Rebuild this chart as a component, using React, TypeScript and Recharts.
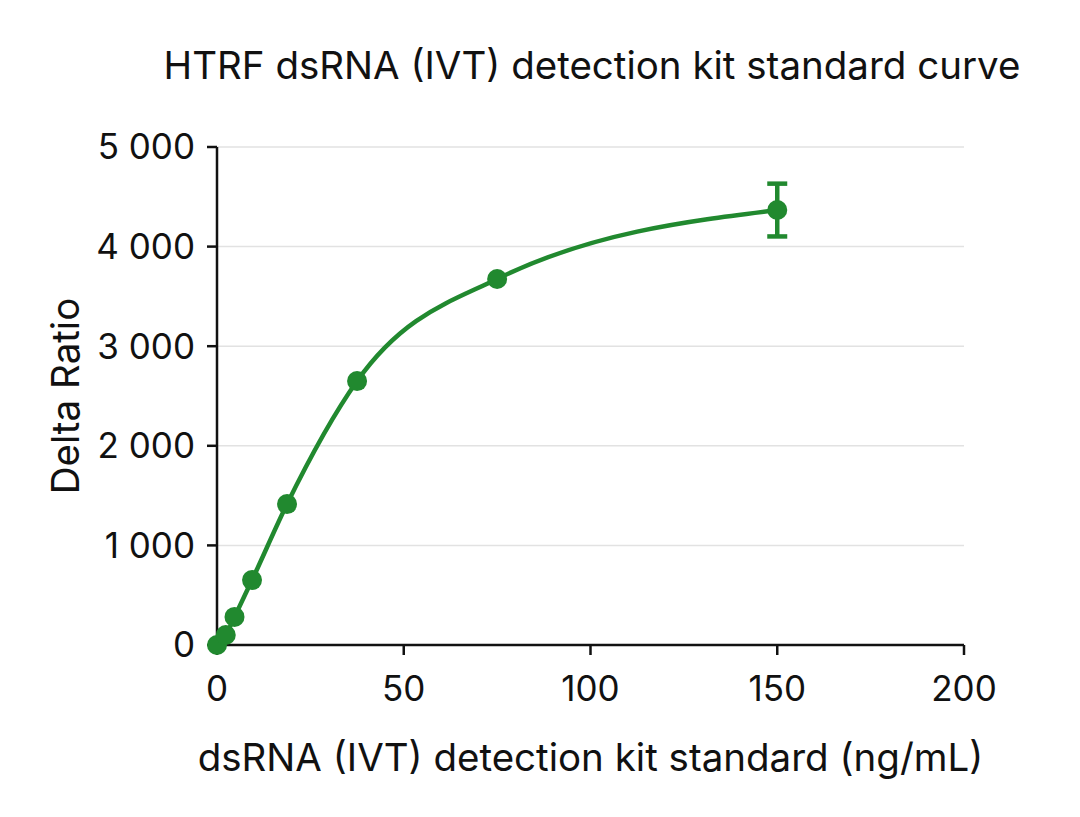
import { ComposedChart, Line, Scatter, XAxis, YAxis, CartesianGrid, ErrorBar } from 'recharts';

const concentrations = [0, 2.34, 4.69, 9.38, 18.75, 37.5, 75, 150];
const deltaRatios = [0, 100, 282, 652, 1415, 2650, 3675, 4367];
const lastPointError = 265;

const xTicks = [0, 50, 100, 150, 200];
const yTicks = [0, 1000, 2000, 3000, 4000, 5000];

const green = '#21892f';
const font = 'Inter, "Liberation Sans", sans-serif';

const data = concentrations.map((x, i) => ({ x, y: deltaRatios[i] }));
const lastPoint = [{ ...data[data.length - 1], err: lastPointError }];

const fmt = (v: number) => (v >= 1000 ? `${Math.floor(v / 1000)} ${String(v % 1000).padStart(3, '0')}` : String(v));

export default function App() {
  return (
    <div style={{ position: 'relative', width: 1064, height: 801, fontFamily: font, background: '#fff' }}>
      <div
        style={{
          position: 'absolute',
          top: 34,
          left: 0,
          width: 1168,
          textAlign: 'center',
          fontSize: 38.5,
          color: '#111',
        }}
      >
        HTRF dsRNA (IVT) detection kit standard curve
      </div>
      <ComposedChart width={1064} height={801} data={data} margin={{ top: 139, right: 108, left: 0, bottom: 0 }}>
        <CartesianGrid vertical={false} stroke="#e2e2e2" strokeWidth={1.5} />
        <XAxis
          type="number"
          dataKey="x"
          domain={[0, 200]}
          ticks={xTicks}
          height={164}
          tickSize={10}
          tickMargin={21}
          stroke="#111"
          strokeWidth={2.5}
          tick={{ fill: '#111', fontSize: 35, fontFamily: font }}
          label={{ value: 'dsRNA (IVT) detection kit standard (ng/mL)', position: 'center', dy: 30, fill: '#111', fontSize: 38.5, fontFamily: font }}
        />
        <YAxis
          type="number"
          domain={[0, 5000]}
          ticks={yTicks}
          width={209}
          tickSize={10}
          tickMargin={12}
          tickFormatter={fmt}
          stroke="#111"
          strokeWidth={2.5}
          tick={{ fill: '#111', fontSize: 35, fontFamily: font }}
          label={{ value: 'Delta Ratio', angle: -90, position: 'center', dx: -47, fill: '#111', fontSize: 38.5, fontFamily: font }}
        />
        <Line
          type="monotone"
          dataKey="y"
          stroke={green}
          strokeWidth={4.5}
          dot={{ r: 10, fill: green, stroke: green, strokeWidth: 0 }}
          activeDot={false}
          isAnimationActive={false}
        />
        <Scatter data={lastPoint} dataKey="y" fill={green} isAnimationActive={false}>
          <ErrorBar dataKey="err" direction="y" width={10} stroke={green} strokeWidth={4.5} />
        </Scatter>
      </ComposedChart>
    </div>
  );
}
